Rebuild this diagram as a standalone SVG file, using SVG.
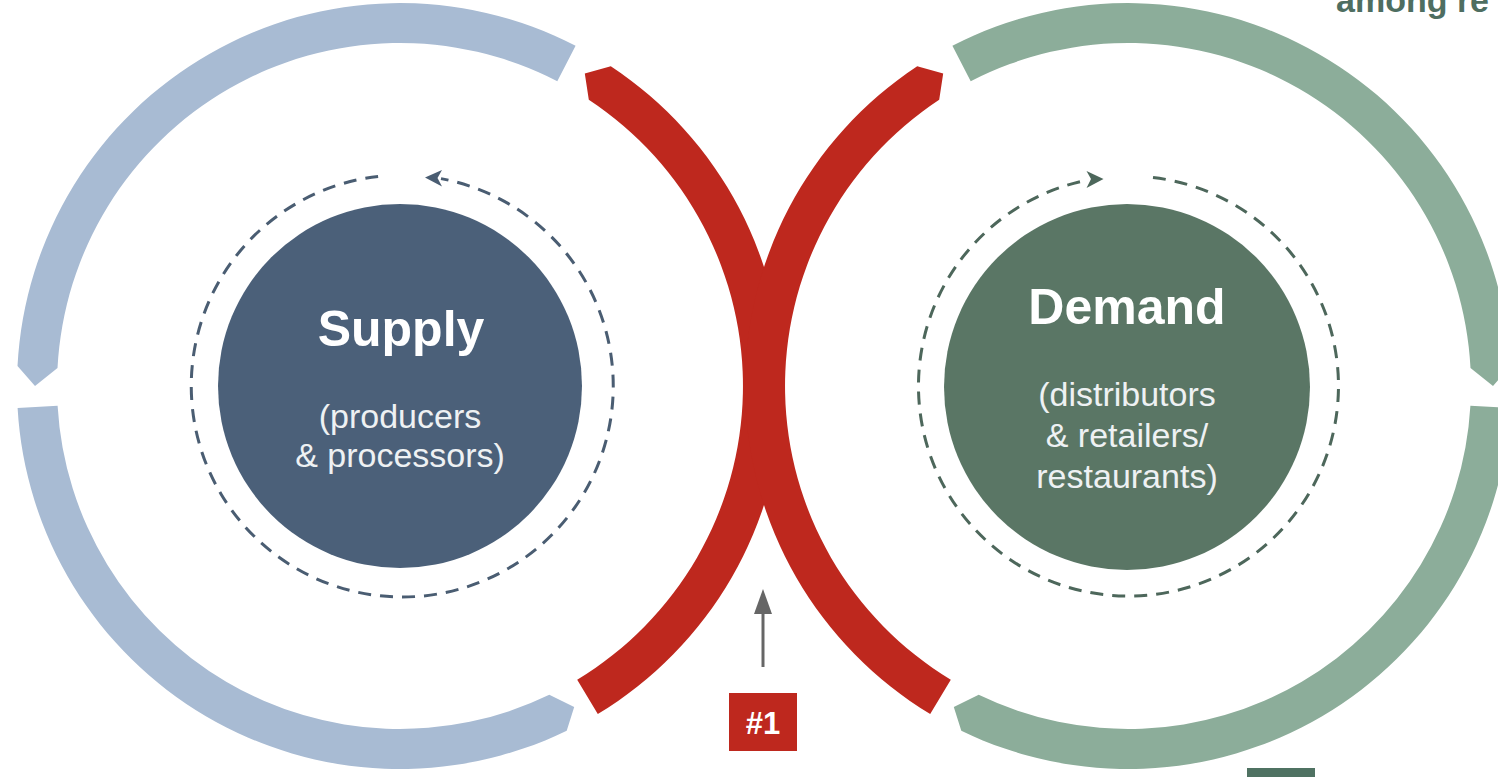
<svg xmlns="http://www.w3.org/2000/svg" width="1498" height="777" viewBox="0 0 1498 777">
  <style>
    .blue { fill: #A8BBD3; }
    .green { fill: #8CAD9A; }
    .red { fill: #BE281E; }
    .title { font-family: "Liberation Sans", Arial, sans-serif; font-weight: bold; font-size: 50px; fill: #FFFFFF; text-anchor: middle; }
    .sub { font-family: "Liberation Sans", Arial, sans-serif; font-size: 34px; fill: #EEF1F3; text-anchor: middle; }
    .dash-s { fill: none; stroke: #4A5D72; stroke-width: 3; stroke-dasharray: 13 9; }
    .dash-d { fill: none; stroke: #4D675B; stroke-width: 3; stroke-dasharray: 13 9; }
  </style>

  <g id="supply-ring">
    <path class="blue" d="M 575.6 45.7 A 383 383 0 0 0 17.5 366.0 L 35 386 L 57.5 368.1 A 343 343 0 0 1 557.3 81.2 Z"/>
    <path class="blue" d="M 17.6 408.0 A 383 383 0 0 0 566.7 730.8 L 574.2 707.0 L 549.3 694.8 A 343 343 0 0 1 57.6 405.7 Z"/>
    <path class="red" d="M 597.8 714.0 A 383 383 0 0 0 610.8 66.3 L 584.8 73.6 L 588.8 99.7 A 343 343 0 0 1 577.2 679.7 Z"/>
  </g>

  <g id="demand-ring">
    <path class="green" d="M 952.4 45.7 A 383 383 0 0 1 1510.5 366.0 L 1493 386 L 1470.5 368.1 A 343 343 0 0 0 970.7 81.2 Z"/>
    <path class="green" d="M 1510.4 408.0 A 383 383 0 0 1 961.3 730.8 L 953.8 707.0 L 978.7 694.8 A 343 343 0 0 0 1470.4 405.7 Z"/>
    <path class="red" d="M 930.2 714.0 A 383 383 0 0 1 917.2 66.3 L 943.2 73.6 L 939.2 99.7 A 343 343 0 0 0 950.8 679.7 Z"/>
  </g>

  <g id="supply-node">
    <circle cx="400" cy="386" r="182" fill="#4B6079"/>
    <text class="title" x="401" y="346">Supply</text>
    <text class="sub" x="400" y="428">(producers</text>
    <text class="sub" x="400" y="467">&amp; processors)</text>
  </g>

  <g id="demand-node">
    <circle cx="1127" cy="387" r="183" fill="#5A7665"/>
    <text class="title" x="1127" y="324">Demand</text>
    <text class="sub" x="1127" y="406">(distributors</text>
    <text class="sub" x="1127" y="447">&amp; retailers/</text>
    <text class="sub" x="1127" y="488">restaurants)</text>
  </g>

  <g id="connectors">
    <path class="dash-s" d="M 378.1 176.4 A 211 211 0 1 0 441 178.6"/>
    <path d="M 442 170 L 425 177.5 L 442 186.5 L 437.5 178 Z" fill="#4A5D72"/>
    <path class="dash-d" d="M 1153 177.5 A 210 210 0 1 1 1088 180"/>
    <path d="M 1086.5 171 L 1103.5 179 L 1086.5 188 L 1091 179 Z" fill="#4D675B"/>
    <line x1="763" y1="667" x2="763" y2="610" stroke="#666666" stroke-width="3"/>
    <path d="M 763 589 L 772 614 L 754 614 Z" fill="#666666"/>
  </g>

  <g id="label-1">
    <rect x="729" y="693" width="68" height="58" class="red"/>
    <text x="763" y="734" font-family="Liberation Sans, Arial, sans-serif" font-weight="bold" font-size="31" fill="#FFFFFF" text-anchor="middle">#1</text>
  </g>

  <g id="top-text">
    <text x="1336" y="12" font-family="Liberation Sans, Arial, sans-serif" font-weight="bold" font-size="34" fill="#4E6E61">among re</text>
  </g>

  <g id="legend-swatch">
    <rect x="1247" y="768" width="68" height="9" fill="#4F7262"/>
  </g>
</svg>
